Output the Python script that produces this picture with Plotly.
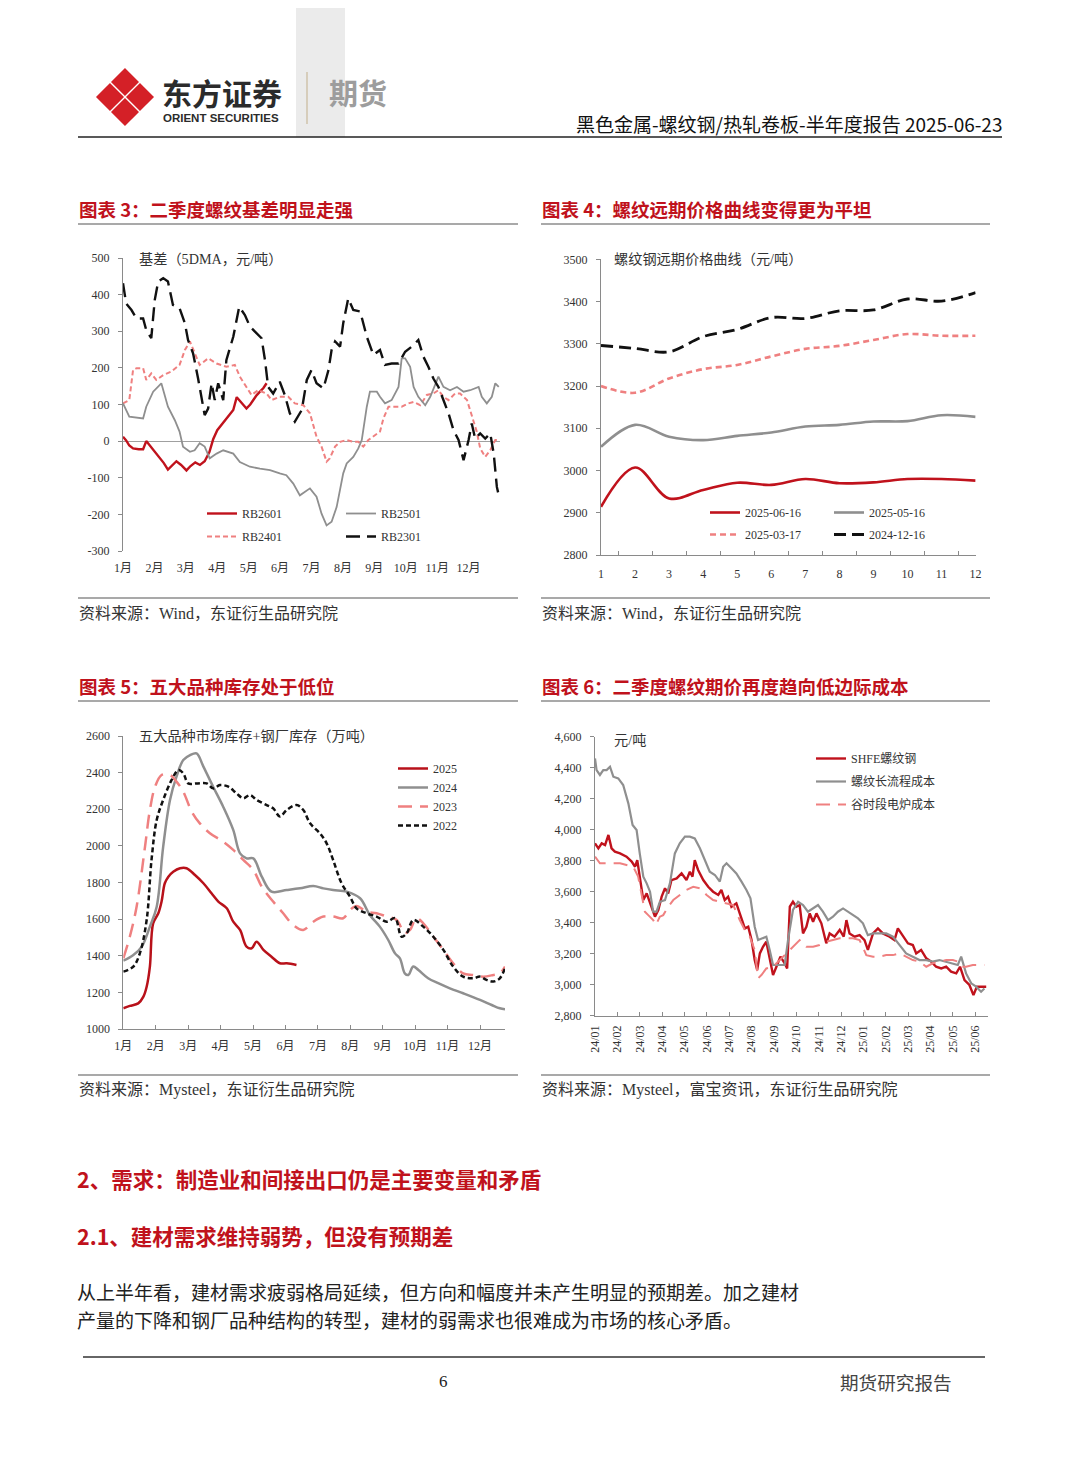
import plotly.graph_objects as go

# page is drawn at an 8px offset inside the browser window
OFF = 8
W, H = 1080 - 2 * OFF, 1466 - 2 * OFF
def X(px): return (px - OFF) / W
def Y(py): return 1 - (py - OFF) / H

# ------------------------------------------------------------------ data
months_cn = ["1月", "2月", "3月", "4月", "5月", "6月", "7月", "8月", "9月", "10月", "11月", "12月"]
basis_ticks = [-300, -200, -100, 0, 100, 200, 300, 400, 500]
basis_tick_text = ["-300", "-200", "-100", "0", "100", "200", "300", "400", "500"]

# Chart 3: basis (5DMA), x = month index (0 = Jan 1)
rb2601_t = [0, 0.1, 0.2, 0.32, 0.5, 0.64, 0.74, 0.85, 1.0, 1.15, 1.3, 1.43, 1.55, 1.7, 1.85, 2.02, 2.15, 2.3, 2.45, 2.6, 2.75, 2.87, 3.0, 3.19, 3.35, 3.51, 3.62, 3.72, 3.83, 3.93, 4.05, 4.14, 4.25, 4.36, 4.47, 4.57]
rb2601_v = [12, 2, -12, -20, -22, -22, 0, -12, -30, -45, -60, -78, -68, -55, -65, -80, -68, -58, -65, -55, -30, 5, 30, 50, 68, 85, 120, 110, 100, 89, 100, 112, 125, 135, 145, 158]

rb2501_t = [0, 0.2, 0.64, 0.74, 0.96, 1.22, 1.43, 1.65, 1.8, 1.91, 2.13, 2.28, 2.44, 2.6, 2.76, 2.98, 3.19, 3.51, 3.72, 4.04, 4.36, 4.68, 4.99, 5.2, 5.42, 5.63, 5.95, 6.16, 6.32, 6.48, 6.64, 6.8, 7.01, 7.12, 7.33, 7.49, 7.6, 7.76, 7.86, 8.08, 8.18, 8.34, 8.55, 8.77, 8.87, 8.98, 9.14, 9.25, 9.4, 9.62, 9.78, 10.04, 10.2, 10.41, 10.63, 10.84, 11.05, 11.32, 11.42, 11.58, 11.74, 11.85, 11.96]
rb2501_v = [103, 67, 62, 94, 135, 158, 94, 57, 26, -15, -29, -25, -6, -15, -47, -34, -25, -34, -57, -70, -75, -79, -88, -93, -116, -148, -129, -152, -198, -230, -220, -180, -88, -61, -43, -20, 3, 94, 135, 135, 121, 103, 112, 148, 226, 226, 203, 148, 121, 98, 121, 176, 148, 139, 148, 135, 139, 148, 121, 103, 121, 158, 148]

rb2401_t = [0, 0.2, 0.32, 0.43, 0.64, 0.74, 0.9, 1.06, 1.28, 1.54, 1.8, 1.97, 2.13, 2.28, 2.44, 2.71, 2.98, 3.29, 3.56, 3.72, 3.93, 4.09, 4.3, 4.57, 4.73, 4.99, 5.26, 5.47, 5.74, 5.95, 6.16, 6.32, 6.48, 6.58, 6.75, 6.91, 7.12, 7.33, 7.49, 7.65, 7.81, 7.97, 8.18, 8.29, 8.45, 8.71, 8.87, 9.09, 9.25, 9.46, 9.67, 9.88, 10.04, 10.2, 10.36, 10.57, 10.73, 10.95, 11.11, 11.26, 11.37, 11.53, 11.69, 11.85, 11.96]
rb2401_v = [103, 112, 194, 199, 199, 167, 185, 167, 180, 190, 208, 249, 272, 240, 208, 226, 212, 203, 208, 176, 148, 126, 139, 130, 112, 121, 121, 103, 98, 76, 12, -15, -56, -47, -15, -2, 3, -2, -2, -15, 3, 12, 26, 62, 94, 94, 94, 103, 107, 98, 126, 130, 139, 121, 112, 130, 130, 112, 67, 26, -20, -43, -25, 3, 3]

rb2301_t = [0, 0.1, 0.27, 0.43, 0.64, 0.74, 0.9, 1.01, 1.12, 1.28, 1.43, 1.59, 1.8, 1.97, 2.07, 2.23, 2.39, 2.5, 2.6, 2.71, 2.82, 2.92, 3.03, 3.19, 3.29, 3.51, 3.7, 3.88, 4.04, 4.2, 4.41, 4.52, 4.62, 4.78, 4.99, 5.15, 5.31, 5.47, 5.69, 5.85, 6.0, 6.16, 6.38, 6.54, 6.64, 6.75, 6.91, 7.01, 7.17, 7.33, 7.55, 7.76, 7.97, 8.18, 8.34, 8.55, 8.77, 8.98, 9.19, 9.4, 9.56, 9.72, 9.88, 10.04, 10.2, 10.36, 10.52, 10.68, 10.84, 11.0, 11.1, 11.21, 11.37, 11.53, 11.69, 11.8, 11.9, 11.96]
rb2301_v = [431, 376, 358, 335, 335, 303, 281, 385, 436, 445, 436, 372, 363, 322, 276, 240, 171, 112, 71, 89, 158, 112, 158, 112, 221, 285, 367, 344, 313, 299, 281, 221, 148, 130, 162, 126, 76, 53, 85, 167, 194, 158, 144, 194, 249, 272, 258, 322, 390, 358, 354, 285, 235, 249, 208, 212, 212, 244, 258, 276, 231, 203, 171, 148, 112, 76, 30, 3, -52, 3, 48, 7, 21, 7, 21, -34, -125, -148]

# Chart 4: forward curve, contract month 1..12
fwd_months = ["1", "2", "3", "4", "5", "6", "7", "8", "9", "10", "11", "12"]
curve_250616 = [2914, 3007, 2934, 2954, 2971, 2966, 2980, 2970, 2972, 2980, 2980, 2976]
curve_250516 = [3056, 3108, 3080, 3072, 3082, 3090, 3104, 3108, 3116, 3117, 3131, 3127]
curve_250317 = [3200, 3184, 3218, 3240, 3250, 3270, 3288, 3295, 3309, 3323, 3319, 3319]
curve_241216 = [3296, 3289, 3281, 3317, 3334, 3362, 3360, 3378, 3380, 3406, 3401, 3421]

# Chart 5: five major products inventory (10k t), x = month index
inv2025_t = [0, 0.2, 0.46, 0.62, 0.72, 0.82, 0.92, 1.08, 1.18, 1.28, 1.39, 1.54, 1.75, 1.95, 2.21, 2.47, 2.72, 2.93, 3.19, 3.39, 3.6, 3.8, 3.96, 4.11, 4.32, 4.57, 4.83, 5.04, 5.34]
inv2025_v = [1113, 1126, 1140, 1177, 1231, 1341, 1577, 1632, 1696, 1796, 1832, 1859, 1878, 1878, 1841, 1796, 1741, 1696, 1659, 1586, 1541, 1450, 1441, 1477, 1432, 1395, 1359, 1359, 1350]
inv2024_t = [0, 0.31, 0.57, 0.82, 1.03, 1.23, 1.44, 1.64, 1.85, 2.06, 2.26, 2.47, 2.77, 3.08, 3.39, 3.6, 3.8, 4.01, 4.27, 4.57, 5.04, 5.45, 5.86, 6.17, 6.47, 6.89, 7.3, 7.6, 7.91, 8.17, 8.38, 8.53, 8.68, 8.79, 8.94, 9.1, 9.4, 9.71, 10.07, 10.48, 11.0, 11.36, 11.61, 11.77]
inv2024_v = [1373, 1404, 1450, 1559, 1668, 1996, 2251, 2378, 2469, 2496, 2505, 2433, 2323, 2214, 2087, 1959, 1932, 1932, 1832, 1750, 1759, 1768, 1781, 1768, 1759, 1750, 1714, 1623, 1559, 1486, 1413, 1386, 1304, 1295, 1341, 1322, 1277, 1250, 1222, 1195, 1159, 1131, 1113, 1108]
inv2023_t = [0, 0.2, 0.41, 0.67, 0.82, 0.98, 1.18, 1.44, 1.64, 1.85, 2.11, 2.36, 2.67, 3.08, 3.39, 3.7, 4.01, 4.27, 4.62, 4.93, 5.24, 5.55, 5.86, 6.17, 6.47, 6.78, 6.99, 7.19, 7.5, 7.81, 8.12, 8.43, 8.68, 8.84, 9.04, 9.25, 9.56, 9.87, 10.17, 10.48, 10.79, 11.1, 11.41, 11.61, 11.77]
inv2023_v = [1386, 1504, 1668, 1996, 2196, 2323, 2387, 2387, 2351, 2296, 2187, 2123, 2069, 2023, 1978, 1923, 1868, 1777, 1696, 1632, 1568, 1541, 1586, 1614, 1614, 1605, 1650, 1672, 1641, 1632, 1614, 1595, 1523, 1541, 1605, 1577, 1504, 1432, 1359, 1304, 1295, 1286, 1295, 1304, 1341]
inv2022_t = [0, 0.31, 0.51, 0.72, 0.87, 1.03, 1.23, 1.49, 1.7, 1.85, 2.0, 2.26, 2.57, 2.77, 2.98, 3.24, 3.49, 3.7, 3.91, 4.11, 4.42, 4.62, 4.83, 5.04, 5.34, 5.55, 5.76, 6.06, 6.27, 6.47, 6.73, 6.99, 7.19, 7.5, 7.81, 8.12, 8.38, 8.58, 8.74, 8.94, 9.25, 9.56, 9.87, 10.17, 10.48, 10.79, 11.0, 11.2, 11.41, 11.61, 11.77]
inv2022_v = [1313, 1341, 1413, 1595, 1923, 2141, 2251, 2360, 2414, 2396, 2341, 2341, 2341, 2314, 2332, 2323, 2287, 2260, 2278, 2251, 2223, 2205, 2160, 2196, 2223, 2196, 2123, 2069, 2014, 1923, 1796, 1723, 1659, 1632, 1614, 1586, 1605, 1504, 1523, 1595, 1559, 1504, 1432, 1341, 1286, 1277, 1286, 1268, 1259, 1277, 1332]

# Chart 6: price vs cost (yuan/t), x = months since 2024-01
cost_ticks = ["24/01", "24/02", "24/03", "24/04", "24/05", "24/06", "24/07", "24/08", "24/09", "24/10", "24/11", "24/12", "25/01", "25/02", "25/03", "25/04", "25/05", "25/06"]
shfe_t = [0, 0.15, 0.3, 0.45, 0.6, 0.74, 0.89, 1.12, 1.41, 1.64, 1.79, 1.89, 2.0, 2.16, 2.31, 2.53, 2.68, 2.83, 2.98, 3.13, 3.27, 3.42, 3.65, 3.87, 4.09, 4.24, 4.36, 4.46, 4.61, 4.84, 5.06, 5.28, 5.51, 5.65, 5.8, 5.95, 6.1, 6.32, 6.55, 6.7, 6.85, 7.0, 7.14, 7.25, 7.37, 7.51, 7.66, 7.81, 7.96, 8.11, 8.29, 8.48, 8.59, 8.71, 8.85, 9.0, 9.15, 9.3, 9.45, 9.6, 9.75, 9.9, 10.12, 10.34, 10.49, 10.71, 10.94, 11.12, 11.24, 11.38, 11.61, 11.83, 12.05, 12.2, 12.43, 12.65, 12.87, 13.17, 13.39, 13.54, 13.76, 13.99, 14.21, 14.36, 14.58, 14.81, 15.03, 15.25, 15.48, 15.7, 15.92, 16.15, 16.32, 16.52, 16.74, 16.92, 17.07, 17.26, 17.49]
shfe_v = [3912, 3880, 3912, 3901, 3966, 3880, 3858, 3847, 3826, 3794, 3761, 3804, 3697, 3546, 3589, 3492, 3439, 3482, 3568, 3622, 3589, 3675, 3686, 3718, 3675, 3729, 3697, 3804, 3740, 3675, 3632, 3600, 3579, 3611, 3546, 3568, 3503, 3525, 3417, 3363, 3374, 3288, 3159, 3095, 3202, 3245, 3277, 3159, 3062, 3116, 3181, 3138, 3105, 3503, 3535, 3503, 3514, 3331, 3374, 3460, 3406, 3460, 3396, 3267, 3331, 3310, 3353, 3310, 3417, 3331, 3310, 3320, 3288, 3224, 3331, 3363, 3331, 3310, 3288, 3363, 3320, 3267, 3256, 3202, 3224, 3170, 3149, 3116, 3105, 3116, 3084, 3073, 3116, 3030, 2998, 2933, 2987, 2987, 2987]
bof_t = [0, 0.07, 0.22, 0.37, 0.52, 0.67, 0.82, 1.04, 1.26, 1.49, 1.68, 1.86, 2.0, 2.16, 2.31, 2.46, 2.6, 2.75, 2.9, 3.13, 3.35, 3.57, 3.79, 4.02, 4.24, 4.46, 4.69, 4.91, 5.13, 5.36, 5.58, 5.73, 5.88, 6.1, 6.32, 6.55, 6.77, 6.95, 7.14, 7.29, 7.44, 7.66, 7.81, 7.96, 8.18, 8.48, 8.63, 8.85, 9.08, 9.3, 9.52, 9.75, 9.97, 10.19, 10.42, 10.64, 10.86, 11.09, 11.31, 11.53, 11.76, 11.98, 12.2, 12.43, 12.72, 13.02, 13.32, 13.62, 13.91, 14.21, 14.51, 14.81, 15.1, 15.4, 15.7, 16.0, 16.22, 16.37, 16.59, 16.82, 17.04, 17.26, 17.41]
bof_v = [4460, 4385, 4353, 4385, 4385, 4406, 4342, 4331, 4288, 4170, 4030, 3998, 3847, 3697, 3654, 3600, 3471, 3471, 3535, 3546, 3654, 3847, 3912, 3955, 3955, 3944, 3880, 3804, 3729, 3708, 3665, 3761, 3783, 3751, 3718, 3665, 3611, 3557, 3374, 3288, 3299, 3310, 3224, 3127, 3127, 3127, 3288, 3482, 3535, 3514, 3471, 3492, 3514, 3471, 3417, 3439, 3471, 3492, 3471, 3449, 3428, 3396, 3320, 3331, 3331, 3331, 3310, 3256, 3202, 3181, 3159, 3159, 3149, 3159, 3149, 3138, 3127, 3181, 3073, 3009, 2987, 2955, 2976]
eaf_t = [0, 0.22, 0.52, 0.82, 1.12, 1.41, 1.71, 1.93, 2.08, 2.23, 2.38, 2.6, 2.72, 2.9, 3.05, 3.27, 3.5, 3.79, 4.09, 4.39, 4.69, 4.99, 5.28, 5.58, 5.88, 6.18, 6.47, 6.7, 6.92, 7.14, 7.29, 7.44, 7.66, 7.96, 8.26, 8.56, 8.85, 9.15, 9.45, 9.75, 10.04, 10.34, 10.64, 10.94, 11.24, 11.53, 11.83, 12.13, 12.43, 12.72, 13.02, 13.32, 13.62, 13.91, 14.21, 14.51, 14.81, 15.1, 15.4, 15.7, 16.0, 16.22, 16.37, 16.59, 16.89, 17.19, 17.41]
eaf_v = [3826, 3783, 3783, 3783, 3783, 3772, 3761, 3697, 3589, 3471, 3449, 3417, 3385, 3439, 3449, 3503, 3546, 3579, 3611, 3632, 3622, 3579, 3546, 3535, 3525, 3514, 3417, 3353, 3310, 3224, 3041, 3062, 3105, 3116, 3159, 3202, 3245, 3288, 3245, 3245, 3256, 3277, 3288, 3299, 3299, 3299, 3288, 3191, 3181, 3181, 3191, 3191, 3202, 3181, 3159, 3149, 3116, 3138, 3149, 3159, 3159, 3149, 3116, 3116, 3127, 3127, 3127]

# ------------------------------------------------------------------ styles
RED = "#c0121c"
GRAY = "#8f8f8f"
PINK = "#ef8080"
BLACK = "#111111"
AXC = "#8a8a8a"
SERIF = "Liberation Serif, Noto Sans CJK SC"
CJK = "Noto Sans CJK SC"
TICKF = dict(family=SERIF, size=12, color="#333")

fig = go.Figure()

def line(x, y, name, color, width, dash, xa, ya, legend, shape="linear"):
    fig.add_trace(go.Scatter(x=x, y=y, name=name, mode="lines", legendgroup=name,
                             line=dict(color=color, width=width, dash=dash, shape=shape),
                             xaxis=xa, yaxis=ya, legend=legend, hoverinfo="skip"))

# chart 3
line(rb2601_t, rb2601_v, "RB2601", RED, 2.4, "solid", "x", "y", "legend")
line(rb2401_t, rb2401_v, "RB2401", PINK, 2, "5px,3px", "x", "y", "legend")
line(rb2501_t, rb2501_v, "RB2501", GRAY, 1.8, "solid", "x", "y", "legend2")
line(rb2301_t, rb2301_v, "RB2301", BLACK, 2.4, "14px,7px", "x", "y", "legend2")
# chart 4
line(fwd_months, curve_250616, "2025-06-16", RED, 2.6, "solid", "x2", "y2", "legend3", "spline")
line(fwd_months, curve_250317, "2025-03-17", PINK, 2.6, "6px,4px", "x2", "y2", "legend3", "spline")
line(fwd_months, curve_250516, "2025-05-16", GRAY, 2.6, "solid", "x2", "y2", "legend4", "spline")
line(fwd_months, curve_241216, "2024-12-16", BLACK, 2.8, "12px,6px", "x2", "y2", "legend4", "spline")
# chart 5
line(inv2025_t, inv2025_v, "2025", "#b8111a", 2.5, "solid", "x3", "y3", "legend5", "spline")
line(inv2024_t, inv2024_v, "2024", GRAY, 2.5, "solid", "x3", "y3", "legend5", "spline")
line(inv2023_t, inv2023_v, "2023", PINK, 2.5, "14px,8px", "x3", "y3", "legend5", "spline")
line(inv2022_t, inv2022_v, "2022", BLACK, 2.5, "5px,3px", "x3", "y3", "legend5", "spline")
# chart 6
line(shfe_t, shfe_v, "SHFE螺纹钢", RED, 2.4, "solid", "x4", "y4", "legend6")
line(bof_t, bof_v, "螺纹长流程成本", GRAY, 2.2, "solid", "x4", "y4", "legend6")
line(eaf_t, eaf_v, "谷时段电炉成本", PINK, 2, "14px,8px", "x4", "y4", "legend6")

def yax(domain, rng, dtick, anchor, fmt=""):
    return dict(domain=domain, range=rng, dtick=dtick, anchor=anchor, showline=True,
                linecolor=AXC, linewidth=1, ticks="outside", ticklen=4, tickcolor=AXC,
                showgrid=False, zeroline=False, tickfont=TICKF, tickformat=fmt,
                ticklabelstandoff=6, fixedrange=True, automargin=False)

def leg(xp, yp, gap=0, size=12):
    return dict(x=X(xp), y=Y(yp), xanchor="left", yanchor="top", bgcolor="rgba(0,0,0,0)",
                font=dict(family=SERIF, size=size, color="#333"), tracegroupgap=gap,
                itemwidth=30, orientation="v")

fig.update_layout(
    template="none",
    width=W, height=H, margin=dict(l=0, r=0, t=0, b=0, pad=0, autoexpand=False),
    paper_bgcolor="white", plot_bgcolor="white", showlegend=True,
    xaxis=dict(domain=[X(123), X(500)], range=[0, 12], tickvals=list(range(12)), ticktext=months_cn,
               anchor="y", showline=False, ticks="", showgrid=False, zeroline=False,
               tickfont=TICKF, ticklabelstandoff=8, automargin=False),
    yaxis=dict(yax([Y(551), Y(258)], [-300, 500], 100, "x"), tickvals=basis_ticks, ticktext=basis_tick_text,
               zeroline=True, zerolinecolor="#a0a0a0", zerolinewidth=1),
    xaxis2=dict(domain=[X(601), X(975.6)], type="category", anchor="y2", showline=True, linecolor=AXC,
                ticks="inside", tickson="boundaries", ticklen=4, tickcolor=AXC, showgrid=False,
                tickfont=TICKF, ticklabelstandoff=8, automargin=False),
    yaxis2=yax([Y(555), Y(259.3)], [2800, 3500], 100, "x2"),
    xaxis3=dict(domain=[X(123.3), X(505)], range=[0, 11.77], tickvals=list(range(12)), ticktext=months_cn,
                anchor="y3", showline=True, linecolor=AXC, ticks="inside", ticklen=4, tickcolor=AXC,
                showgrid=False, zeroline=False, tickfont=TICKF, ticklabelstandoff=6, automargin=False),
    yaxis3=yax([Y(1029), Y(736)], [1000, 2600], 200, "x3"),
    xaxis4=dict(domain=[X(595), X(988)], range=[0, 17.57], tickvals=list(range(18)), ticktext=cost_ticks,
                tickangle=-90, anchor="y4", showline=True, linecolor=AXC, ticks="inside", ticklen=4,
                tickcolor=AXC, showgrid=False, zeroline=False, tickfont=TICKF, ticklabelstandoff=4,
                automargin=False),
    yaxis4=yax([Y(1015.7), Y(736.7)], [2800, 4600], 200, "x4", ",d"),
    legend=leg(202, 499, gap=4),
    legend2=leg(341, 499, gap=4),
    legend3=leg(705, 498, gap=3),
    legend4=leg(829, 498, gap=3),
    legend5=leg(393, 754),
    legend6=leg(811, 744, gap=4),
)

# ------------------------------------------------------------------ page decoration
shapes = []
def rect(x0, y0, x1, y1, color):
    shapes.append(dict(type="rect", xref="paper", yref="paper", x0=X(x0), x1=X(x1), y0=Y(y1), y1=Y(y0),
                       fillcolor=color, line=dict(width=0), layer="below"))
def hline(x0, x1, y, color, w):
    shapes.append(dict(type="line", xref="paper", yref="paper", x0=X(x0), x1=X(x1), y0=Y(y), y1=Y(y),
                       line=dict(color=color, width=w)))
def vline(x, y0, y1, color, w):
    shapes.append(dict(type="line", xref="paper", yref="paper", x0=X(x), x1=X(x), y0=Y(y0), y1=Y(y1),
                       line=dict(color=color, width=w)))

rect(296, OFF, 345, 137, "#ebebeb")
# logo: four diamonds forming a white X
cx, cy, s, d = 125, 97, 15, 12.6
for ox, oy in [(0, -s), (s, 0), (0, s), (-s, 0)]:
    px, py = cx + ox, cy + oy
    pts = [(px, py - d), (px + d, py), (px, py + d), (px - d, py)]
    path = "M " + " L ".join(f"{X(a):.5f},{Y(b):.5f}" for a, b in pts) + " Z"
    shapes.append(dict(type="path", xref="paper", yref="paper", path=path,
                       fillcolor="#d42027", line=dict(color="#d42027", width=2)))
vline(307, 72, 124, "#c9b99b", 1.2)
hline(78, 1002, 137, "#222", 1.6)
for yy in (224, 598, 701, 1075):
    hline(78, 518, yy, "#8c8c8c", 1.5)
    hline(541, 990, yy, "#8c8c8c", 1.5)
hline(83, 985, 1357, "#333", 1.6)

ann = []
def text(x, y, t, size, color="#222", anchor="left", family=CJK, bold=False):
    ann.append(dict(x=X(x), y=Y(y), xref="paper", yref="paper", xanchor=anchor, yanchor="middle",
                    text=(f"<b>{t}</b>" if bold else t), showarrow=False, borderpad=0,
                    font=dict(size=size, color=color, family=family)))

text(161, 92, "东方证券", 30, "#2b2b2b", bold=True)
text(162, 117.5, "ORIENT SECURITIES", 11.5, "#2b2b2b", family="Liberation Sans", bold=True)
text(328, 92, "期货", 29, "#9d9d9d", bold=True)
text(1003, 124, "黑色金属-螺纹钢/热轧卷板-半年度报告 2025-06-23", 19, "#111", anchor="right")

TS = 18.5
text(78, 209, "图表 3：二季度螺纹基差明显走强", TS, "#c0121c", bold=True)
text(541, 209, "图表 4：螺纹远期价格曲线变得更为平坦", TS, "#c0121c", bold=True)
text(78, 686, "图表 5：五大品种库存处于低位", TS, "#c0121c", bold=True)
text(541, 686, "图表 6：二季度螺纹期价再度趋向低边际成本", TS, "#c0121c", bold=True)

AS = 14.2
text(138, 259, "基差（5DMA，元/吨）", AS, "#333", family=SERIF)
text(613, 259, "螺纹钢远期价格曲线（元/吨）", AS, "#333", family=SERIF)
text(138, 736, "五大品种市场库存+钢厂库存（万吨）", AS, "#333", family=SERIF)
text(613, 740, "元/吨", AS, "#333", family=SERIF)

SS = 16
text(78, 613, "资料来源：Wind，东证衍生品研究院", SS, "#333", family=SERIF)
text(541, 613, "资料来源：Wind，东证衍生品研究院", SS, "#333", family=SERIF)
text(78, 1090, "资料来源：Mysteel，东证衍生品研究院", SS, "#333", family=SERIF)
text(541, 1090, "资料来源：Mysteel，富宝资讯，东证衍生品研究院", SS, "#333", family=SERIF)

text(76, 1178, "2、需求：制造业和间接出口仍是主要变量和矛盾", 21.5, "#c0121c", bold=True)
text(76, 1235, "2.1、建材需求维持弱势，但没有预期差", 21.5, "#c0121c", bold=True)
text(76, 1291, "从上半年看，建材需求疲弱格局延续，但方向和幅度并未产生明显的预期差。加之建材", 19, "#222")
text(76, 1319, "产量的下降和钢厂品种结构的转型，建材的弱需求也很难成为市场的核心矛盾。", 19, "#222")

text(443, 1381, "6", 17, "#222", anchor="center", family=SERIF)
text(953, 1381, "期货研究报告", 18.6, "#444", anchor="right")

fig.update_layout(shapes=shapes, annotations=ann)
fig.write_html("out.html")
